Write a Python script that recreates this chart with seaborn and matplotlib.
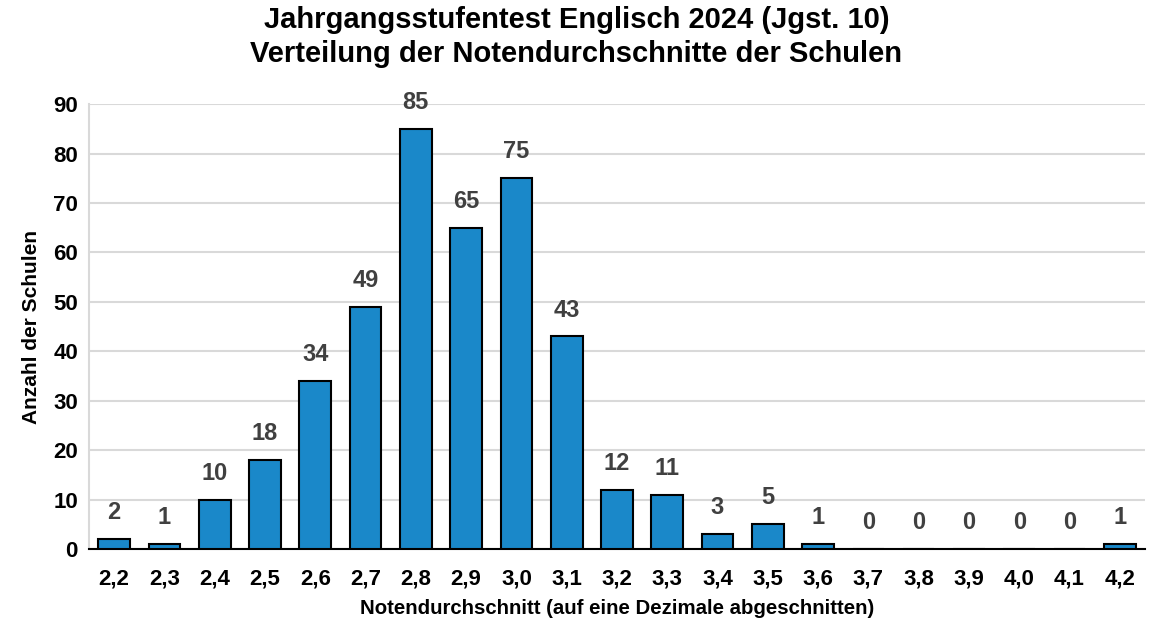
import pandas as pd
import seaborn as sns
import matplotlib.pyplot as plt

# Notendurchschnitte und Anzahl der Schulen
noten = ['2,2', '2,3', '2,4', '2,5', '2,6', '2,7', '2,8', '2,9', '3,0', '3,1', '3,2',
         '3,3', '3,4', '3,5', '3,6', '3,7', '3,8', '3,9', '4,0', '4,1', '4,2']
anzahl = [2, 1, 10, 18, 34, 49, 85, 65, 75, 43, 12, 11, 3, 5, 1, 0, 0, 0, 0, 0, 1]

df = pd.DataFrame({'Note': noten, 'Anzahl': anzahl})

sns.set_style("white")
plt.rcParams['font.family'] = ['Liberation Sans', 'DejaVu Sans']
plt.rcParams['font.weight'] = 'bold'
plt.rcParams['text.color'] = 'black'
plt.rcParams['xtick.color'] = 'black'
plt.rcParams['ytick.color'] = 'black'
plt.rcParams['axes.labelcolor'] = 'black'

fig = plt.figure(figsize=(11.53, 6.27), dpi=100)
ax = fig.add_axes([0.0772, 0.1244, 0.9158, 0.7096])

sns.barplot(data=df, x='Note', y='Anzahl', color='#1a88c9', saturation=1,
            width=0.63, edgecolor='black', linewidth=1.5, ax=ax, zorder=3)

for i, v in enumerate(anzahl):
    ax.text(i, v + 3, str(v), ha='center', va='bottom', fontsize=17,
            fontweight='bold', color='#404040')

ax.set_ylim(0, 90)
ax.set_xlim(-0.5, len(noten) - 0.5)
ax.set_yticks(range(0, 91, 10))
ax.yaxis.grid(True, color='#d9d9d9', linewidth=1.5, zorder=0)
ax.set_axisbelow(True)
for s in ['top', 'right']:
    ax.spines[s].set_visible(False)
ax.spines['left'].set_color('#d9d9d9')
ax.spines['left'].set_linewidth(1.5)
ax.spines['bottom'].set_color('black')
ax.spines['bottom'].set_linewidth(1.5)
ax.tick_params(axis='y', length=0, labelsize=16, pad=8)
ax.tick_params(axis='x', length=0, labelsize=16, pad=14)
for lbl in ax.get_xticklabels() + ax.get_yticklabels():
    lbl.set_fontweight('bold')

ax.set_xlabel('Notendurchschnitt (auf eine Dezimale abgeschnitten)', fontsize=14.7,
              fontweight='bold', labelpad=7)
ax.set_ylabel('Anzahl der Schulen', fontsize=15, fontweight='bold', labelpad=9)
fig.suptitle('Jahrgangsstufentest Englisch 2024 (Jgst. 10)\nVerteilung der Notendurchschnitte der Schulen',
             fontsize=21, fontweight='bold', y=0.99, linespacing=1.25)

fig.savefig('out.png', dpi=100)
